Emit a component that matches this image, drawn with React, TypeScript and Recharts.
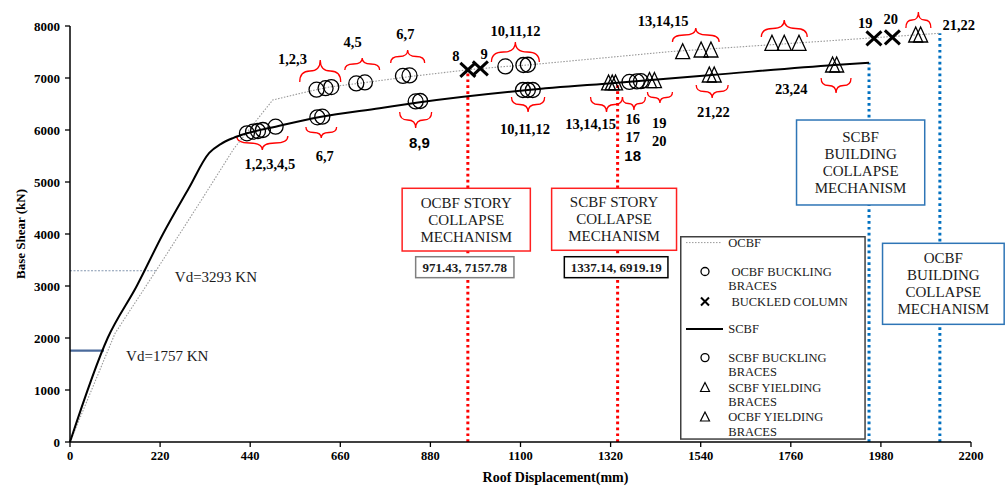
import React from 'react';
import {
  ComposedChart, Line, Scatter, XAxis, YAxis, ReferenceLine, ReferenceArea, ReferenceDot, Legend,
} from 'recharts';

const SERIF = '"Liberation Serif", "Times New Roman", serif';
const SANS = '"Liberation Sans", Arial, sans-serif';

// ---------- axes ----------
const X_TICKS = [0, 220, 440, 660, 880, 1100, 1320, 1540, 1760, 1980, 2200];
const Y_TICKS = [0, 1000, 2000, 3000, 4000, 5000, 6000, 7000, 8000];

// ---------- curves ----------
const SCBF_X = [0, 92, 163, 227, 290, 340, 368, 398, 432, 502, 610, 756, 850, 1118, 1337, 1567, 1867, 1951];
const SCBF_Y = [0, 2000, 3000, 4000, 4880, 5560, 5730, 5845, 5936, 6064, 6250, 6420, 6530, 6770, 6910, 7058, 7250, 7294];

const OCBF_X = [0, 110, 210, 321, 400, 495, 560, 602, 634, 720, 832, 971.43, 1063, 1120, 1300, 1463, 1780, 2122];
const OCBF_Y = [0, 2090, 3293, 4654, 5640, 6577, 6700, 6775, 6827, 6912, 7030, 7157.78, 7222, 7252, 7385, 7506, 7676, 7859];

// ---------- event markers ----------
const OCBF_BUCKLE_X = [602, 624, 638, 699, 720, 813, 829, 1063, 1107, 1118];
const OCBF_BUCKLE_Y = [6775, 6805, 6825, 6895, 6915, 7040, 7050, 7222, 7250, 7255];
const OCBF_COLUMN_X = [971.43, 1002, 1963, 2008];
const OCBF_COLUMN_Y = [7157.78, 7186, 7763, 7783];
const OCBF_YIELD_X = [1496, 1541, 1565, 1714, 1744, 1780, 2065, 2077];
const OCBF_YIELD_Y = [7506, 7538, 7538, 7667, 7667, 7667, 7827, 7827];
const SCBF_BUCKLE_X = [432, 447, 459, 471, 502, 604, 616, 844, 855, 1106, 1118, 1130, 1366, 1384, 1394];
const SCBF_BUCKLE_Y = [5936, 5968, 5981, 6000, 6064, 6244, 6256, 6550, 6558, 6769, 6769, 6769, 6925, 6935, 6938];
const SCBF_YIELD_X = [1315, 1324, 1332, 1415, 1427, 1561, 1573, 1862, 1872];
const SCBF_YIELD_Y = [6905, 6905, 6905, 6950, 6950, 7058, 7058, 7250, 7250];

// ---------- design base shear ----------
const VD_OCBF = 3293;
const VD_OCBF_X_END = 210;
const VD_SCBF = 1757;
const VD_SCBF_X_END = 83;

// ---------- collapse verticals ----------
const COLLAPSE_X = [971.43, 1337.14, 1951, 2124];
const COLLAPSE_Y = [7157.78, 6919.19, 7294, 7859];
const COLLAPSE_COLOR = ['#ff0000', '#ff0000', '#0070c0', '#0070c0'];

// ---------- braces (data coords) ----------
const BRACE_X1 = [561, 671, 783, 576, 407, 805, 1029, 1078, 1271, 1349, 1410, 1471, 1529, 1688, 1834, 2041];
const BRACE_X2 = [661, 756, 866, 651, 532, 883, 1146, 1159, 1349, 1405, 1471, 1585, 1607, 1800, 1907, 2102];
const BRACE_TIP = [7346, 7385, 7538, 5846, 5615, 6038, 7692, 6346, 6346, 6385, 6519, 7962, 6615, 8115, 6711, 8269];
const BRACE_END = [6923, 7154, 7288, 6058, 5885, 6346, 7308, 6635, 6635, 6635, 6731, 7692, 6865, 7788, 7000, 7961];

// ---------- group labels ----------
const LABEL_TEXT = ['1,2,3', '4,5', '6,7', '10,11,12', '13,14,15', '21,22', '1,2,3,4,5', '6,7', '8,9', '10,11,12',
  '13,14,15', '16', '17', '18', '19', '20', '21,22', '23,24', '8', '9', '19', '20'];
const LABEL_X = [543, 690, 819, 1088, 1448, 2170, 488, 622, 853, 1111, 1271, 1374, 1374, 1374, 1439, 1439, 1571, 1761, 942, 1011, 1942, 2004];
const LABEL_Y = [7365, 7692, 7846, 7913, 8100, 8013, 5346, 5504, 5769, 6023, 6115, 6206, 5871, 5519, 6129, 5794, 6337, 6788, 7427, 7458, 8067, 8131];
const SANS_LABELS = new Set([8, 13]);

// ---------- text boxes ----------
const BOX_LINES = [
  ['OCBF STORY', 'COLLAPSE', 'MECHANISM'],
  ['971.43, 7157.78'],
  ['SCBF STORY', 'COLLAPSE', 'MECHANISM'],
  ['1337.14, 6919.19'],
  ['SCBF', 'BUILDING', 'COLLAPSE', 'MECHANISM'],
  ['OCBF', 'BUILDING', 'COLLAPSE', 'MECHANISM'],
];
const BOX_X1 = [811, 844, 1176, 1207, 1774, 1984];
const BOX_X2 = [1124, 1084, 1481, 1460, 2087, 2281];
const BOX_Y1 = [3673, 3160, 3687, 3160, 4558, 2263];
const BOX_Y2 = [4879, 3563, 4879, 3563, 6192, 3821];
const BOX_BORDER = ['#ff2020', '#7f7f7f', '#ff2020', '#000000', '#2e75b6', '#2e75b6'];
const BOX_BOLD = [false, true, false, true, false, false];

const LEGEND_NAMES = ['OCBF', ' OCBF BUCKLING|BRACES', ' BUCKLED COLUMN', 'SCBF', 'SCBF BUCKLING|BRACES', 'SCBF YIELDING|BRACES', 'OCBF YIELDING|BRACES'];

const pts = (xs: number[], ys: number[]) => xs.map((x, i) => ({ x, y: ys[i] }));

const CircleShape = (p: any) => (
  <circle cx={p.cx} cy={p.cy} r={7.5} fill="none" stroke="#000" strokeWidth={1.3} />
);
const TriShape = (p: any) => (
  <polygon points={`${p.cx},${p.cy - 8} ${p.cx - 7},${p.cy + 7} ${p.cx + 7},${p.cy + 7}`} fill="none" stroke="#000" strokeWidth={1.3} />
);
const CrossShape = (p: any) => (
  <g stroke="#000" strokeWidth={3}>
    <line x1={p.cx - 7.5} y1={p.cy - 7} x2={p.cx + 7.5} y2={p.cy + 7} />
    <line x1={p.cx - 7.5} y1={p.cy + 7} x2={p.cx + 7.5} y2={p.cy - 7} />
  </g>
);

const vLineShape = (color: string) => (p: any) => {
  const top = Math.min(p.y, p.y + p.height);
  const bot = Math.max(p.y, p.y + p.height);
  const cx = p.x + p.width / 2;
  return <line x1={cx} y1={bot} x2={cx} y2={top} stroke={color} strokeWidth={3} strokeDasharray="2.7 3.2" />;
};

const braceShape = (up: boolean) => (p: any) => {
  const top = Math.min(p.y, p.y + p.height);
  const bot = Math.max(p.y, p.y + p.height);
  const x0 = p.x;
  const w = p.width;
  const x2 = x0 + w;
  const xc = x0 + w / 2;
  const r = w / 4;
  const yt = up ? top : bot;
  const ye = up ? bot : top;
  const ym = (yt + ye) / 2;
  const d = `M${x0},${ye} Q${x0},${ym} ${x0 + r},${ym} Q${xc},${ym} ${xc},${yt} Q${xc},${ym} ${x2 - r},${ym} Q${x2},${ym} ${x2},${ye}`;
  return <path d={d} fill="none" stroke="#ff0000" strokeWidth={1.3} />;
};

const boxShape = (lines: string[], border: string, bold: boolean) => (p: any) => {
  const top = Math.min(p.y, p.y + p.height);
  const h = Math.abs(p.height);
  const lh = 17;
  const start = top + h / 2 - ((lines.length - 1) * lh) / 2;
  return (
    <g>
      <rect x={p.x} y={top} width={p.width} height={h} fill="#fff" stroke={border} strokeWidth={1.5} />
      {lines.map((t, i) => (
        <text key={i} x={p.x + p.width / 2} y={start + i * lh} textAnchor="middle" dominantBaseline="central"
          fontFamily={SERIF} fontSize={bold ? 13 : 15} fontWeight={bold ? 'bold' : 'normal'} fill="#1a1a1a"
          style={{ whiteSpace: 'pre' }}>{t}</text>
      ))}
    </g>
  );
};

const textShape = (t: string, sans: boolean) => (p: any) => (
  <text x={p.cx} y={p.cy} textAnchor="middle" dominantBaseline="central" fontFamily={sans ? SANS : SERIF}
    fontWeight="bold" fontSize={sans ? 15 : 14.5} fill="#000">{t}</text>
);

const plainText = (t: string) => (p: any) => (
  <text x={p.cx} y={p.cy} textAnchor="start" dominantBaseline="central" fontFamily={SERIF} fontSize={15} fill="#1a1a1a">{t}</text>
);

const renderLegend = () => {
  const rowsY = [6.6, 35.5, 65.5, 93, 121.6, 151.5, 181];
  const kinds = ['dot', 'circle', 'cross', 'solid', 'circle', 'tri', 'tri'];
  return (
    <svg width={186} height={204} style={{ display: 'block' }}>
      <rect x={0.75} y={0.75} width={184.3} height={202.3} fill="#fff" stroke="#404040" strokeWidth={1.5} />
      {LEGEND_NAMES.map((name, i) => {
        const y = rowsY[i];
        const k = kinds[i];
        const parts = name.split('|');
        let mark: any = null;
        if (k === 'dot') mark = <line x1={6} y1={y} x2={42} y2={y} stroke="#999" strokeWidth={1} strokeDasharray="1.5 1.5" />;
        if (k === 'solid') mark = <line x1={6} y1={y} x2={43} y2={y} stroke="#000" strokeWidth={2} />;
        if (k === 'circle') mark = <circle cx={25} cy={y} r={4} fill="none" stroke="#000" strokeWidth={1.3} />;
        if (k === 'cross') mark = (
          <g stroke="#000" strokeWidth={2}>
            <line x1={21} y1={y - 4} x2={29} y2={y + 4} />
            <line x1={21} y1={y + 4} x2={29} y2={y - 4} />
          </g>
        );
        if (k === 'tri') mark = <polygon points={`25,${y - 5} 20.5,${y + 4} 29.5,${y + 4}`} fill="none" stroke="#000" strokeWidth={1.2} />;
        return (
          <g key={i}>
            {mark}
            {parts.map((t, j) => (
              <text key={j} x={48.3} y={y + j * 14.5} dominantBaseline="central" fontFamily={SERIF} fontSize={12.5} fill="#1a1a1a"
                style={{ whiteSpace: 'pre' }}>{t}</text>
            ))}
          </g>
        );
      })}
    </svg>
  );
};

export default function App() {
  const scbf = pts(SCBF_X, SCBF_Y);
  const ocbf = pts(OCBF_X, OCBF_Y);
  return (
    <div style={{ position: 'absolute', left: 0, top: 0, width: 1005, height: 486, background: '#fff' }}>
      <ComposedChart width={1005} height={486} margin={{ top: 26, right: 34, bottom: 14, left: 10 }}>
        <XAxis type="number" dataKey="x" domain={[0, 2200]} ticks={X_TICKS} interval={0} height={30}
          tick={{ fontFamily: SERIF, fontWeight: 'bold', fontSize: 12.5, fill: '#000' }} tickSize={5} tickMargin={4}
          axisLine={{ stroke: '#000', strokeWidth: 1.5 }} tickLine={{ stroke: '#000', strokeWidth: 1.3 }}
          label={{
            content: (props: any) => {
              const vb = props.viewBox;
              return (
                <text x={vb.x + vb.width / 2 + 35} y={vb.y + 40} textAnchor="middle" fontFamily={SERIF} fontWeight="bold" fontSize={14} fill="#000">
                  Roof Displacement(mm)
                </text>
              );
            },
          }} />
        <YAxis type="number" domain={[0, 8000]} ticks={Y_TICKS} interval={0} width={60}
          tick={{ fontFamily: SERIF, fontWeight: 'bold', fontSize: 13, fill: '#000' }} tickSize={5} tickMargin={5}
          axisLine={{ stroke: '#000', strokeWidth: 1.5 }} tickLine={{ stroke: '#000', strokeWidth: 1.3 }}
          label={{
            content: (props: any) => {
              const vb = props.viewBox;
              const cx = 20;
              const cy = vb.y + vb.height / 2;
              return (
                <text x={cx} y={cy} transform={`rotate(-90, ${cx}, ${cy})`} textAnchor="middle" dominantBaseline="central"
                  fontFamily={SERIF} fontWeight="bold" fontSize={13} fill="#000">Base Shear (kN)</text>
              );
            },
          }} />

        <ReferenceLine segment={[{ x: 0, y: VD_OCBF }, { x: VD_OCBF_X_END, y: VD_OCBF }]} stroke="#8497b0" strokeWidth={1} strokeDasharray="2 1.5" ifOverflow="visible" />
        <ReferenceLine segment={[{ x: 0, y: VD_SCBF }, { x: VD_SCBF_X_END, y: VD_SCBF }]} stroke="#4a6a9b" strokeWidth={2.2} ifOverflow="visible" />

        <Line data={ocbf} dataKey="y" type="linear" stroke="#999" strokeWidth={1.1} strokeDasharray="1.5 1.5" dot={false} isAnimationActive={false} />
        <Line data={scbf} dataKey="y" type="monotone" stroke="#000" strokeWidth={2} dot={false} isAnimationActive={false} />

        {COLLAPSE_X.map((x, i) => (
          <ReferenceArea key={`cv${i}`} x1={x - 1} x2={x + 1} y1={0} y2={COLLAPSE_Y[i]} ifOverflow="visible"
            shape={vLineShape(COLLAPSE_COLOR[i])} />
        ))}

        {BOX_LINES.map((lines, i) => (
          <ReferenceArea key={`box${i}`} x1={BOX_X1[i]} x2={BOX_X2[i]} y1={BOX_Y1[i]} y2={BOX_Y2[i]} ifOverflow="visible"
            shape={boxShape(lines, BOX_BORDER[i], BOX_BOLD[i])} />
        ))}

        <Scatter data={pts(OCBF_BUCKLE_X, OCBF_BUCKLE_Y)} dataKey="y" shape={CircleShape} isAnimationActive={false} />
        <Scatter data={pts(SCBF_BUCKLE_X, SCBF_BUCKLE_Y)} dataKey="y" shape={CircleShape} isAnimationActive={false} />
        <Scatter data={pts(OCBF_YIELD_X, OCBF_YIELD_Y)} dataKey="y" shape={TriShape} isAnimationActive={false} />
        <Scatter data={pts(SCBF_YIELD_X, SCBF_YIELD_Y)} dataKey="y" shape={TriShape} isAnimationActive={false} />
        <Scatter data={pts(OCBF_COLUMN_X, OCBF_COLUMN_Y)} dataKey="y" shape={CrossShape} isAnimationActive={false} />

        {BRACE_X1.map((x1, i) => (
          <ReferenceArea key={`br${i}`} x1={x1} x2={BRACE_X2[i]} y1={Math.min(BRACE_TIP[i], BRACE_END[i])}
            y2={Math.max(BRACE_TIP[i], BRACE_END[i])} ifOverflow="visible" shape={braceShape(BRACE_TIP[i] > BRACE_END[i])} />
        ))}

        {LABEL_TEXT.map((t, i) => (
          <ReferenceDot key={`lb${i}`} x={LABEL_X[i]} y={LABEL_Y[i]} r={0} ifOverflow="visible" shape={textShape(t, SANS_LABELS.has(i))} />
        ))}

        <ReferenceDot x={256} y={3173} r={0} ifOverflow="visible" shape={plainText(`Vd=${VD_OCBF} KN`)} />
        <ReferenceDot x={137} y={1660} r={0} ifOverflow="visible" shape={plainText(`Vd=${VD_SCBF} KN`)} />

        <Legend content={renderLegend} layout="vertical" align="center" verticalAlign="middle"
          wrapperStyle={{ left: 680, top: 236, width: 186, height: 204 }} />
      </ComposedChart>
    </div>
  );
}
